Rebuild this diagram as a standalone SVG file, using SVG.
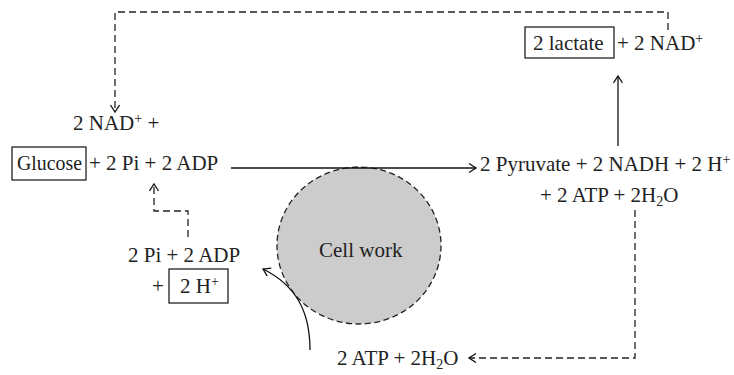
<svg xmlns="http://www.w3.org/2000/svg" width="734" height="375" viewBox="0 0 734 375">
<defs>
<style>
text{font-family:"Liberation Serif","Times New Roman",serif;font-size:21px;fill:#222}
.sup{font-size:14px}
.box{fill:none;stroke:#222;stroke-width:1.3}
.ln{fill:none;stroke:#111;stroke-width:1.3}
.dash{fill:none;stroke:#222;stroke-width:1.3;stroke-dasharray:7 4}
</style>
<marker id="arr" markerUnits="userSpaceOnUse" markerWidth="12" markerHeight="12" refX="8" refY="5" orient="auto">
<path d="M1,0.5 L8,5 L1,9.5" fill="none" stroke="#111" stroke-width="1.3"/>
</marker>
</defs>
<rect width="734" height="375" fill="#fff"/>
<g id="cellwork">
<ellipse cx="359" cy="245.5" rx="82" ry="78.5" fill="#cccccc" stroke="#222" stroke-width="1.3" stroke-dasharray="6 3.5"/>
<text x="319" y="257">Cell work</text>
</g>
<g id="connectors">
<line class="ln" x1="231" y1="168" x2="476" y2="168" marker-end="url(#arr)"/>
<line class="ln" x1="618" y1="146" x2="618" y2="76" marker-end="url(#arr)"/>
<path class="ln" d="M310,350 C310,310 295,285 263,269" marker-end="url(#arr)"/>
<path class="dash" d="M668,30 V12 H115 V112" marker-end="url(#arr)"/>
<path class="dash" d="M188,237 V211 H154 V184" marker-end="url(#arr)"/>
<path class="dash" d="M635,210 V358 H469" marker-end="url(#arr)"/>
</g>
<g id="nad-in">
<text x="73" y="130">2 NAD<tspan class="sup" dy="-7">+</tspan><tspan dy="7"> +</tspan></text>
</g>
<g id="glucose">
<rect class="box" x="12" y="147" width="74" height="33"/>
<text x="17" y="170" textLength="65" lengthAdjust="spacingAndGlyphs">Glucose</text>
<text x="89" y="170">+ 2 Pi + 2 ADP</text>
</g>
<g id="pyruvate">
<text x="480" y="171">2 Pyruvate + 2 NADH + 2 H<tspan class="sup" dy="-7">+</tspan></text>
<text x="540" y="202">+ 2 ATP + 2H<tspan class="sup" dy="4">2</tspan><tspan dy="-4">O</tspan></text>
</g>
<g id="lactate">
<rect class="box" x="525" y="27" width="89" height="31"/>
<text x="533" y="50">2 lactate</text>
<text x="617" y="50">+ 2 NAD<tspan class="sup" dy="-7">+</tspan></text>
</g>
<g id="pi-adp">
<text x="128" y="262">2 Pi + 2 ADP</text>
<text x="152" y="293">+</text>
<rect class="box" x="169" y="269" width="59" height="34"/>
<text x="180" y="293">2 H<tspan class="sup" dy="-7">+</tspan></text>
</g>
<g id="atp-out">
<text x="337" y="365">2 ATP + 2H<tspan class="sup" dy="4">2</tspan><tspan dy="-4">O</tspan></text>
</g>
</svg>
